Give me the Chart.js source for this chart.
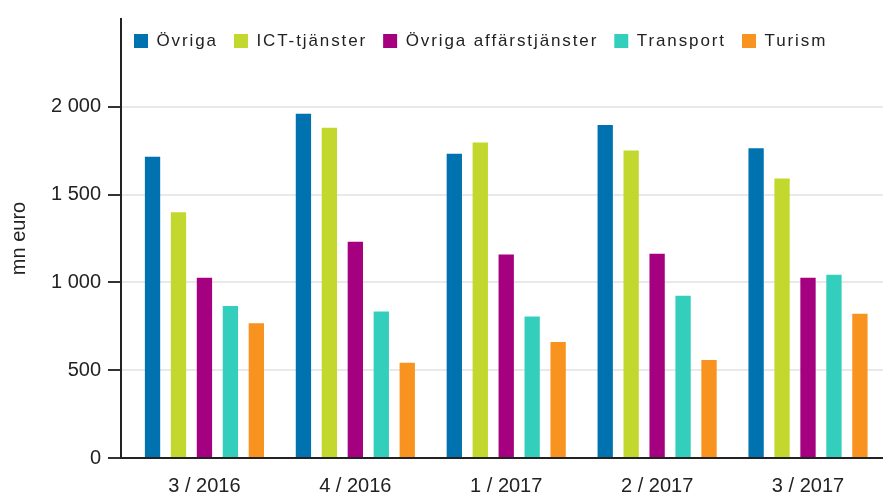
<!DOCTYPE html>
<html>
<head>
<meta charset="utf-8">
<script src="https://cdn.jsdelivr.net/npm/chart.js@4/dist/chart.umd.min.js"></script>
<style>
  body { margin: 0; background: #fff; }
  #wrap { width: 883px; height: 493px; }
</style>
</head>
<body>
<div id="wrap"><canvas id="chart"></canvas></div>
<script>
const categories = ['3 / 2016', '4 / 2016', '1 / 2017', '2 / 2017', '3 / 2017'];
const ovriga = [1715, 1960, 1732, 1896, 1764];
const ict = [1400, 1881, 1796, 1751, 1591];
const ovrigaAff = [1026, 1231, 1159, 1163, 1026];
const transport = [866, 834, 806, 924, 1043];
const turism = [767, 543, 661, 558, 821];
const yTicks = [0, 500, 1000, 1500, 2000];

const toPoints = (values) => values.map((v, i) => ({ x: i, y: v }));
const fmt = (v) => String(v).replace(/\B(?=(\d{3})+(?!\d))/g, ' ');

Chart.defaults.font.family = "Arial, 'Liberation Sans', sans-serif";
Chart.defaults.color = '#222';

// legend sits inside the plot area in one row, text a bit letter-spaced
const legendInArea = {
    id: 'legendInArea',
    afterInit(chart) {
        const legend = chart.legend;
        legend.isHorizontal = () => true;
        ['fit', 'draw'].forEach((name) => {
            const orig = legend[name];
            legend[name] = function (...args) {
                if (name === 'draw') {
                    this.left = chart.chartArea.left - 3;
                    this.right = chart.chartArea.right;
                    this.top = chart.chartArea.top - 2.5;
                }
                this.ctx.save();
                this.ctx.letterSpacing = '1.9px';
                const r = orig.apply(this, args);
                this.ctx.restore();
                return r;
            };
        });
    }
};

new Chart(document.getElementById('chart'), {
    type: 'bar',
    data: {
        datasets: [
            { label: 'Övriga', data: toPoints(ovriga), backgroundColor: '#0072b0' },
            { label: 'ICT-tjänster', data: toPoints(ict), backgroundColor: '#c3d82e' },
            { label: 'Övriga affärstjänster', data: toPoints(ovrigaAff), backgroundColor: '#a5007f' },
            { label: 'Transport', data: toPoints(transport), backgroundColor: '#34cfbc' },
            { label: 'Turism', data: toPoints(turism), backgroundColor: '#f7931e' }
        ]
    },
    options: {
        responsive: true,
        maintainAspectRatio: false,
        animation: false,
        categoryPercentage: 0.86,
        barPercentage: 0.59,
        layout: { padding: { top: 15, left: 0, right: 0, bottom: 0 } },
        scales: {
            x: {
                type: 'linear',
                offset: false,
                min: -0.553,
                max: 4.497,
                grid: { display: false, drawTicks: false, offset: false },
                border: { display: true, color: '#222', width: 2 },
                ticks: {
                    stepSize: 1,
                    includeBounds: false,
                    autoSkip: false,
                    maxRotation: 0,
                    padding: 16,
                    font: { size: 20 },
                    callback: (v) => categories[v] ?? ''
                },
                afterFit: (scale) => { scale.height = 35; }
            },
            y: {
                min: 0,
                max: 2500,
                grid: {
                    color: (c) => yTicks.includes(c.tick.value) ? '#e9e9e9' : 'transparent',
                    tickColor: (c) => yTicks.includes(c.tick.value) ? '#333' : 'transparent',
                    lineWidth: 2,
                    tickWidth: 2,
                    tickLength: 13
                },
                border: { display: true, color: '#222', width: 2 },
                ticks: {
                    stepSize: 500,
                    padding: 7,
                    font: { size: 20 },
                    callback: (v) => yTicks.includes(v) ? fmt(v) : ''
                },
                title: {
                    display: true,
                    text: 'mn euro',
                    font: { size: 20 },
                    padding: { top: 7, bottom: 0 }
                },
                afterFit: (scale) => { scale.width = 121; }
            }
        },
        plugins: {
            legend: {
                position: 'chartArea',
                align: 'start',
                labels: {
                    boxWidth: 14,
                    boxHeight: 14,
                    padding: 16,
                    font: { size: 17 },
                    color: '#222'
                }
            },
            tooltip: { enabled: false }
        }
    },
    plugins: [legendInArea]
});
</script>
</body>
</html>
